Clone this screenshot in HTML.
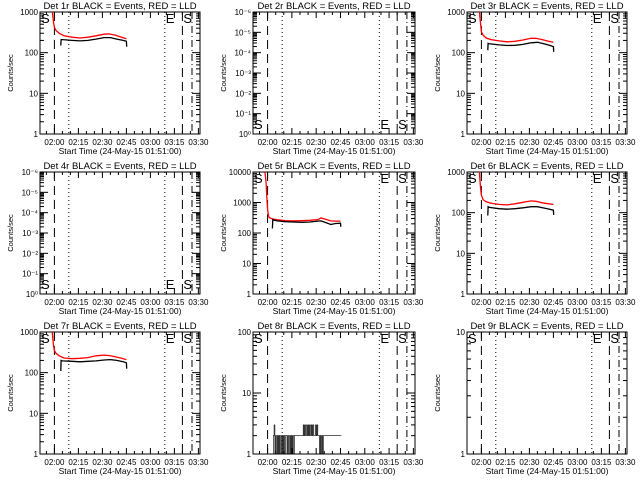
<!DOCTYPE html>
<html><head><meta charset="utf-8">
<style>
html,body{margin:0;padding:0;background:#fff;}
svg{display:block;font-family:"Liberation Sans",sans-serif;}
</style></head>
<body>
<svg id="chart" width="640" height="480" viewBox="0 0 640 480" xmlns="http://www.w3.org/2000/svg"></svg>
<script>
// time in minutes since 01:51:00
const panelTitles = ["Det 1r","Det 2r","Det 3r","Det 4r","Det 5r","Det 6r","Det 7r","Det 8r","Det 9r"];
const tickLabels = ["02:00","02:15","02:30","02:45","03:00","03:15","03:30"];
const tickMinutes = [9,24,39,54,69,84,99];
const markerMinutes = [9,18,78,89,95];
const markerStyles = ["dash","dot","dot","dash","dashdot"];
const yMaxExp = [3,6,3,6,4,3,3,2,1];
const yMinExp = [0,0,0,0,0,0,0,0,0];
const p1RedT = [7,7.5,8,8.5,9,10,12,15,20,25,30,35,40,43,47,51,54];
const p1RedV = [2000,1200,800,550,420,350,300,260,240,230,240,260,285,290,270,240,220];
const p1BlkT = [13,13.2,14,20,25,30,35,40,44,48,52,54,54.2];
const p1BlkV = [150,210,210,200,195,200,215,235,235,215,200,190,140];
const p3RedT = [7.5,8,8.5,9,10,12,15,20,25,30,35,40,43,47,51,54];
const p3RedV = [1500,800,500,330,270,230,210,195,185,190,205,225,225,210,190,180];
const p3BlkT = [13,13.2,14,20,25,30,35,40,44,48,52,54,54.2];
const p3BlkV = [115,170,165,155,150,152,160,175,180,165,150,140,105];
const p5RedT = [7,8,8.5,9,9.5,10,12,15,20,25,30,35,40,42,45,48,51,54];
const p5RedV = [15000,5000,1500,600,380,320,290,270,255,250,255,260,275,310,280,250,245,245];
const p5BlkT = [12,12.2,13,15,20,25,30,35,40,42,45,48,51,54,54.2];
const p5BlkV = [140,280,260,250,235,230,225,230,245,250,220,190,205,210,160];
const p6RedT = [7.5,8,8.5,9,10,12,15,20,25,30,35,40,43,47,51,54];
const p6RedV = [1500,700,400,270,210,185,170,160,155,165,180,195,190,175,165,160];
const p6BlkT = [13,13.2,14,20,25,30,35,40,44,48,52,54,54.2];
const p6BlkV = [85,140,135,125,122,125,132,140,140,130,120,115,88];
const p7RedT = [7,7.5,8,8.5,9,10,12,15,20,25,30,35,40,43,47,51,54];
const p7RedV = [2000,1200,700,450,350,300,260,230,220,225,235,260,270,265,245,225,210];
const p7BlkT = [13,13.2,14,20,25,30,35,40,44,48,52,54,54.2];
const p7BlkV = [110,200,195,190,185,190,195,205,210,200,185,175,125];
const p8BlkStart = 12;
const p8BlkStep = 0.5;
const p8BlkV = [1,2,3,1,2,1,2,1,2,1,2,1,2,1,2,1,2,2,1,2,1,2,1,2,1,2,1,2,2,2,2,2,2,2,2,2,2,2,3,2,3,2,3,2,3,2,3,2,3,2,3,2,2,3,2,3,2,2,1,2,1,2,1,2,2,2,2,2,2,2,2,2,2,2,2,2,2,2,2,2,2,2,2,2,2];
const redSeries = [[p1RedT,p1RedV],null,[p3RedT,p3RedV],null,[p5RedT,p5RedV],[p6RedT,p6RedV],[p7RedT,p7RedV],null,null];
const blackSeries = [[p1BlkT,p1BlkV],null,[p3BlkT,p3BlkV],null,[p5BlkT,p5BlkV],[p6BlkT,p6BlkV],[p7BlkT,p7BlkV],"p8",null];

const NS="http://www.w3.org/2000/svg";
const svg=document.getElementById('chart');
function mk(tag,attrs,parent){const e=document.createElementNS(NS,tag);for(const k in attrs)e.setAttribute(k,attrs[k]);(parent||svg).appendChild(e);return e;}
const colLeft=[40,253,467], colRight=[200,415,627];
const T0=0,T1=100;
const supMinus=["⁰","⁻¹","⁻²","⁻³","⁻⁴","⁻⁵","⁻⁶"];
for(let p=0;p<9;p++){
  const r=Math.floor(p/3), c=p%3;
  const L=colLeft[c], R=colRight[c], TOP=12+r*160, BOT=134+r*160;
  const xs=t=>L+(t-T0)/(T1-T0)*(R-L);
  const lo=yMinExp[p], hi=yMaxExp[p];
  const ys=v=>BOT-(Math.log10(Math.max(v,1e-9))-lo)/(hi-lo)*(BOT-TOP);
  const g=mk('g',{});
  
  
  const tt=mk('text',{x:(L+R)/2,y:TOP-3,'text-anchor':'middle','font-size':'9.5'},g);
  tt.textContent=panelTitles[p]+" BLACK = Events, RED = LLD";
  
  
  const fr=mk('rect',{x:L,y:TOP,width:R-L,height:BOT-TOP,fill:'none',stroke:'#000','stroke-width':1},g);
  
  
  const weird=(hi===6);
  for(let e=lo;e<=hi;e++){
    const y=ys(Math.pow(10,e));
    mk('line',{x1:L,x2:L+8,y1:y,y2:y,stroke:'#000'},g);
    mk('line',{x1:R,x2:R-8,y1:y,y2:y,stroke:'#000'},g);
    const lab=mk('text',{x:L-2,y:y+3,'text-anchor':'end','font-size':'8'},g);
    lab.textContent= weird ? "10"+supMinus[e] : String(Math.pow(10,e));
    
    
    if(e<hi){for(let m=2;m<10;m++){const ym=ys(m*Math.pow(10,e));
      mk('line',{x1:L,x2:L+4,y1:ym,y2:ym,stroke:'#000'},g);
      mk('line',{x1:R,x2:R-4,y1:ym,y2:ym,stroke:'#000'},g);}}
  }
  for(let t=4;t<=99;t+=5){const x=xs(t);const major=((t-9)%15===0);const len=major?6:3;
    mk('line',{x1:x,x2:x,y1:BOT,y2:BOT-len,stroke:'#000'},g);
    mk('line',{x1:x,x2:x,y1:TOP,y2:TOP+len,stroke:'#000'},g);}
  for(let i=0;i<tickLabels.length;i++){
    const lab=mk('text',{x:xs(tickMinutes[i]),y:BOT+11,'text-anchor':'middle','font-size':'8'},g);
    lab.textContent=tickLabels[i];
    
    
  }
  const xt=mk('text',{x:(L+R)/2,y:BOT+20,'text-anchor':'middle','font-size':'8.5'},g);
  xt.textContent="Start Time (24-May-15 01:51:00)";
  
  
  const yx=L-27, yy=(TOP+BOT)/2;
  const yt=mk('text',{x:yx,y:yy,'text-anchor':'middle','font-size':'7.5',transform:`rotate(-90 ${yx} ${yy})`},g);
  yt.textContent="Counts/sec";
  
  
  for(let i=0;i<markerMinutes.length;i++){
    const x=xs(markerMinutes[i]);const st=markerStyles[i];
    const da= st==='dash'?'9,5':st==='dot'?'1,3':'7,3,1,3';
    const ml=mk('line',{x1:x,x2:x,y1:TOP,y2:BOT,stroke:'#000','stroke-dasharray':da},g);
    
    
  }
  const ly = weird ? BOT-5 : TOP+11;
  [["S",0],["E",78],["S",89]].forEach(([s,t])=>{
    const tx=mk('text',{x:xs(t)+1,y:ly,'font-size':'13','font-weight':'normal'},g);
    tx.textContent=s;
    
    
  });
  const clip=mk('clipPath',{id:'clip'+p},g);
  mk('rect',{x:L,y:TOP,width:R-L,height:BOT-TOP},clip);
  function stepPath(T,V){let d='';for(let i=0;i<T.length;i++){const x=xs(T[i]),y=ys(V[i]);d+=(i?'L':'M')+x.toFixed(1)+','+y.toFixed(1);}return d;}
  if(redSeries[p]){const pa=mk('path',{d:stepPath(redSeries[p][0],redSeries[p][1]),fill:'none',stroke:'#ff0000','stroke-width':1.3,'clip-path':`url(#clip${p})`},g);
    
    }
  if(blackSeries[p]==="p8"){
    let d='';for(let i=0;i<p8BlkV.length;i++){const t=p8BlkStart+i*p8BlkStep;const y=ys(p8BlkV[i]);
      d+=(i?'L':'M')+xs(t).toFixed(1)+','+y.toFixed(1)+'L'+xs(t+p8BlkStep).toFixed(1)+','+y.toFixed(1);}
    const pa=mk('path',{d:d,fill:'none',stroke:'#000','stroke-width':0.6,'clip-path':`url(#clip${p})`},g);
    
    
  } else if(blackSeries[p]){const pa=mk('path',{d:stepPath(blackSeries[p][0],blackSeries[p][1]),fill:'none',stroke:'#000','stroke-width':1.3,'clip-path':`url(#clip${p})`},g);
    
    }
}
</script>
</body></html>
